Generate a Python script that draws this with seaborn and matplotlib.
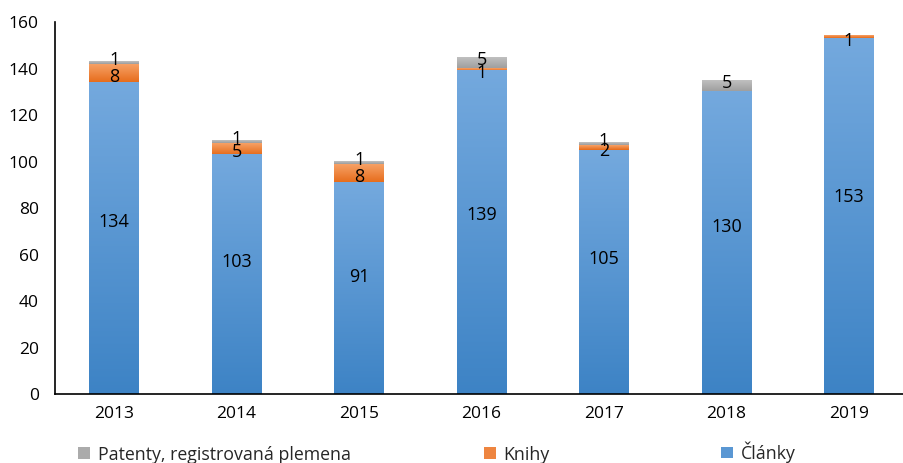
import matplotlib
matplotlib.use('Agg')
import matplotlib.pyplot as plt
import seaborn as sns
import numpy as np
import pandas as pd
from matplotlib.patches import Patch
from matplotlib.colors import LinearSegmentedColormap

# ---- data ----
years = ['2013', '2014', '2015', '2016', '2017', '2018', '2019']
clanky = [134, 103, 91, 139, 105, 130, 153]
knihy = [8, 5, 8, 1, 2, 0, 1]
patenty = [1, 1, 1, 5, 1, 5, 0]
y_ticks = [0, 20, 40, 60, 80, 100, 120, 140, 160]
legend_labels = ['Patenty, registrovaná plemena', 'Knihy', 'Články']

sns.set_theme(style='white')
plt.rcParams['font.family'] = ['Open Sans', 'DejaVu Sans']

W, H = 904, 463
fig = plt.figure(figsize=(W / 100, H / 100), dpi=100)
ax = fig.add_axes([55.5 / W, (H - 394) / H, (W - 55.5) / W, (394 - 22.2) / H])

df = pd.DataFrame({'year': years, 'clanky': clanky, 'knihy': knihy, 'patenty': patenty})
df['c1'] = df['clanky']
df['c2'] = df['c1'] + df['knihy']
df['c3'] = df['c2'] + df['patenty']
df['c0'] = 0

# (top column, lower column, value column, (top colour, bottom colour))
layers = [
    ('c3', 'c2', 'patenty', ('#C0C0C0', '#9C9C9C')),
    ('c2', 'c1', 'knihy', ('#F7A166', '#E56A18')),
    ('c1', 'c0', 'clanky', ('#74A9DE', '#3D83C5')),
]

seg_info = {}
for top_col, low_col, val_col, (ctop, cbot) in layers:
    n0 = len(ax.patches)
    sns.barplot(data=df, x='year', y=top_col, order=years, width=0.408,
                color=cbot, saturation=1, errorbar=None, ax=ax)
    patches = ax.patches[n0:]
    cmap = LinearSegmentedColormap.from_list(val_col, [cbot, ctop])
    grad = np.linspace(0, 1, 256).reshape(-1, 1)
    info = []
    for p, lo, hi, v in zip(patches, df[low_col], df[top_col], df[val_col]):
        x0, w = p.get_x(), p.get_width()
        p.set_edgecolor('none')
        if v > 0:
            ax.imshow(grad, cmap=cmap, extent=[x0, x0 + w, lo, hi],
                      aspect='auto', origin='lower', zorder=p.get_zorder() + 0.1,
                      interpolation='bilinear')
        info.append((x0 + w / 2, lo, hi, v))
    seg_info[val_col] = info

ax.set_xlim(-0.478, 6.449)
ax.set_ylim(0, 160)
ax.set_yticks(y_ticks)
ax.set_xlabel('')
ax.set_ylabel('')

# data labels
lab_kw = dict(ha='center', va='center', fontsize=13, color='black', zorder=10)
for xc, lo, hi, v in seg_info['clanky']:
    ax.text(xc, (lo + hi) / 2 * 1.107, f'{v}', **lab_kw)
for xc, lo, hi, v in seg_info['knihy']:
    if v > 0:
        ax.text(xc, (lo + hi) / 2 - 1.5, f'{v}', **lab_kw)
for xc, lo, hi, v in seg_info['patenty']:
    if v > 0:
        ax.text(xc, (lo + hi) / 2 + 1.2, f'{v}', **lab_kw)

sns.despine(ax=ax, top=True, right=True)
for s in ['left', 'bottom']:
    ax.spines[s].set_color('black')
    ax.spines[s].set_linewidth(1.2)
ax.tick_params(axis='both', length=0, labelsize=12.5, colors='black')
ax.tick_params(axis='x', pad=9)
ax.tick_params(axis='y', pad=12)
ax.grid(False)

# legend (three entries spread along the bottom)
leg_colors = ['#ABABAB', '#EE8540', '#5A97D3']
leg_x = [78, 484, 721]
leg_y = [454.5, 454.5, 452]
for lab, col, xp, yp in zip(legend_labels, leg_colors, leg_x, leg_y):
    fig.legend(handles=[Patch(facecolor=col, edgecolor='none', label=lab)],
               loc='center left', bbox_to_anchor=(xp / W, 1 - yp / H),
               frameon=False, fontsize=12.8, handlelength=0.65, handleheight=0.65,
               handletextpad=0.45, borderpad=0, borderaxespad=0)

fig.savefig('out.png', dpi=100)
